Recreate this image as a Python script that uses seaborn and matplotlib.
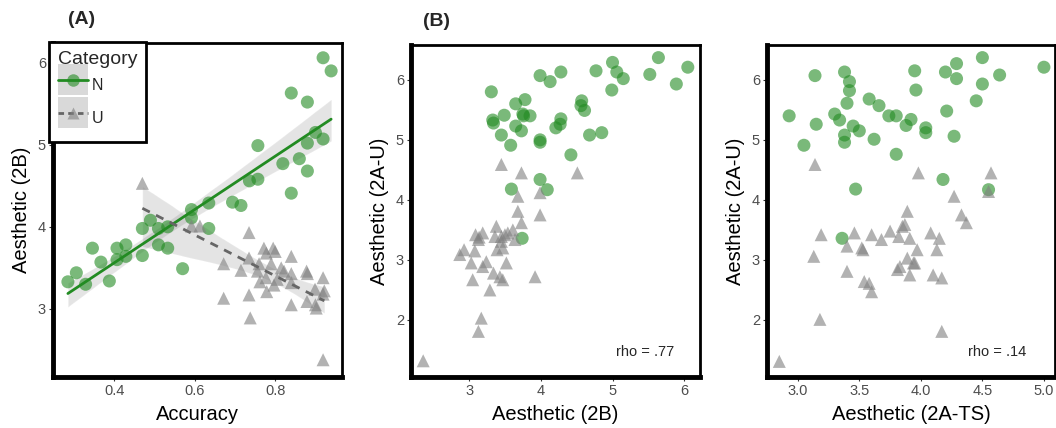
import numpy as np
import pandas as pd
import seaborn as sns
import matplotlib.pyplot as plt
from matplotlib.lines import Line2D
from matplotlib.patches import Patch, Rectangle
from matplotlib.legend_handler import HandlerTuple, HandlerPatch
from matplotlib.colors import to_rgba

# Panel A: accuracy vs aesthetic (2B)
acc_n = [0.285, 0.306, 0.329, 0.346, 0.367, 0.388, 0.407, 0.407, 0.429, 0.429,
         0.470, 0.470, 0.490, 0.510, 0.510, 0.533, 0.533, 0.570, 0.592, 0.592,
         0.635, 0.635, 0.694, 0.715, 0.736, 0.757, 0.757, 0.819, 0.840, 0.840,
         0.860, 0.880, 0.880, 0.880, 0.900, 0.919, 0.919, 0.939]
aes2b_n = [3.33, 3.44, 3.30, 3.74, 3.57, 3.34, 3.74, 3.60, 3.78, 3.64,
           3.98, 3.65, 4.08, 3.98, 3.78, 4.00, 3.74, 3.49, 4.21, 4.11,
           4.29, 3.98, 4.30, 4.26, 4.56, 4.99, 4.58, 4.77, 5.63, 4.41,
           4.83, 5.52, 5.02, 4.68, 5.15, 5.07, 6.06, 5.90]
acc_u = [0.470, 0.592, 0.613, 0.672, 0.672, 0.715, 0.735, 0.735, 0.735, 0.738,
         0.756, 0.762, 0.772, 0.778, 0.777, 0.779, 0.795, 0.797, 0.800, 0.815,
         0.822, 0.840, 0.840, 0.840, 0.840, 0.878, 0.879, 0.899, 0.900, 0.902,
         0.919, 0.919, 0.922, 0.919, 0.790, 0.805, 0.760, 0.880]
aes2b_u = [4.53, 4.01, 4.01, 3.55, 3.13, 3.47, 3.93, 3.62, 3.17, 2.89,
           3.46, 3.33, 3.74, 3.68, 3.38, 3.21, 3.74, 3.29, 3.70, 3.50,
           3.46, 3.64, 3.43, 3.32, 3.05, 3.46, 3.09, 3.24, 3.05, 3.01,
           3.38, 3.18, 3.22, 2.38, 3.55, 3.36, 3.55, 3.43]

# Panel B: aesthetic (2B) vs aesthetic (2A-U)
b_x_n = [3.31, 3.33, 3.34, 3.49, 3.45, 3.58, 3.65, 3.65, 3.73, 3.78,
         3.75, 3.76, 3.85, 3.99, 4.13, 4.28, 3.99, 3.99, 4.21, 4.27,
         4.28, 4.42, 4.57, 4.56, 4.61, 4.68, 4.85, 4.77, 5.00, 5.06,
         5.15, 4.99, 5.52, 5.64, 5.89, 6.05, 3.99, 4.09, 3.59, 3.74]
b_y_n = [5.80, 5.33, 5.28, 5.41, 5.08, 4.91, 5.60, 5.23, 5.15, 5.67,
         5.43, 5.40, 5.40, 6.07, 5.97, 6.13, 5.00, 4.96, 5.20, 5.26,
         5.35, 4.75, 5.65, 5.57, 5.49, 5.08, 5.12, 6.15, 6.29, 6.13,
         6.02, 5.83, 6.09, 6.37, 5.93, 6.21, 4.34, 4.17, 4.18, 3.36]
b_x_u = [2.36, 3.13, 3.17, 3.05, 2.87, 2.93, 3.03, 3.09, 3.19, 3.14,
         3.13, 3.19, 3.24, 3.29, 3.34, 3.38, 3.36, 3.39, 3.45, 3.45,
         3.45, 3.47, 3.43, 3.47, 3.52, 3.54, 3.61, 3.64, 3.68, 3.68,
         3.73, 3.73, 3.99, 3.99, 3.92, 4.51, 3.50, 3.08]
b_y_u = [1.32, 1.81, 2.03, 2.67, 3.09, 3.17, 2.95, 3.42, 3.45, 3.38,
         3.34, 2.89, 2.97, 2.50, 2.78, 3.56, 3.39, 3.17, 4.59, 3.39,
         3.31, 3.20, 2.72, 2.67, 2.95, 3.45, 3.50, 3.34, 4.06, 3.81,
         3.62, 4.45, 4.12, 3.75, 2.72, 4.45, 3.42, 3.15]

# Panel C: aesthetic (2A-TS) vs aesthetic (2A-U)
c_x_n = [2.93, 3.05, 3.14, 3.15, 3.30, 3.34, 3.38, 3.42, 3.42, 3.40,
         3.38, 3.38, 3.45, 3.50, 3.47, 3.36, 3.58, 3.66, 3.62, 3.74,
         3.80, 3.80, 3.88, 3.92, 3.95, 3.96, 4.04, 4.04, 4.20, 4.29,
         4.29, 4.21, 4.27, 4.18, 4.45, 4.50, 4.50, 4.64, 4.55, 5.00]
c_y_n = [5.40, 4.91, 6.07, 5.26, 5.43, 5.33, 6.13, 5.97, 5.82, 5.61,
         5.08, 4.96, 5.23, 5.15, 4.18, 3.36, 5.68, 5.57, 5.01, 5.40,
         5.40, 4.76, 5.24, 5.34, 6.15, 5.83, 5.20, 5.12, 6.13, 6.27,
         6.02, 5.48, 5.06, 4.34, 5.65, 6.37, 5.93, 6.08, 4.17, 6.21]
c_x_u = [2.85, 3.14, 3.13, 3.19, 3.18, 3.40, 3.40, 3.46, 3.52, 3.53,
         3.54, 3.58, 3.60, 3.60, 3.68, 3.75, 3.82, 3.81, 3.85, 3.87,
         3.89, 3.89, 3.91, 3.91, 3.94, 3.95, 3.97, 3.98, 4.08, 4.10,
         4.13, 4.15, 4.17, 4.17, 4.27, 4.33, 4.37, 4.55, 4.57, 3.83]
c_y_u = [1.31, 4.59, 3.06, 3.42, 2.01, 3.23, 2.81, 3.45, 3.20, 3.17,
         2.64, 2.61, 2.47, 3.42, 3.34, 3.48, 3.39, 2.84, 3.56, 3.59,
         3.81, 3.03, 2.75, 3.36, 2.95, 2.95, 3.17, 4.45, 3.45, 2.75,
         3.17, 3.36, 2.70, 1.81, 4.06, 3.75, 3.62, 4.14, 4.45, 2.89]

rho_b = "rho = .77"
rho_c = "rho = .14"

green = "forestgreen"
grey = "#808080"
palette = {"N": green, "U": grey}
markers = {"N": "o", "U": "^"}


def make_df(xn, yn, xu, yu):
    return pd.concat([
        pd.DataFrame({"x": xn, "y": yn, "Category": "N"}),
        pd.DataFrame({"x": xu, "y": yu, "Category": "U"}),
    ], ignore_index=True)


df_a = make_df(acc_n, aes2b_n, acc_u, aes2b_u)
df_b = make_df(b_x_n, b_y_n, b_x_u, b_y_u)
df_c = make_df(c_x_n, c_y_n, c_x_u, c_y_u)

sns.set_theme(style="ticks")
plt.rcParams["font.family"] = ["Liberation Sans", "DejaVu Sans"]

W, H = 1056, 428
fig = plt.figure(figsize=(W / 100, H / 100), dpi=100)


def add_ax(left, top, right, bottom):
    return fig.add_axes([left / W, 1 - bottom / H, (right - left) / W, (bottom - top) / H])


ax_a = add_ax(53, 43, 342, 377)
ax_b = add_ax(411, 45, 700, 377)
ax_c = add_ax(767, 45, 1055, 377)


def draw_points(ax, df):
    sns.scatterplot(data=df, x="x", y="y", hue="Category", style="Category",
                    palette=palette, markers=markers, s=88, alpha=0.6,
                    linewidth=0, legend=False, ax=ax, zorder=3)


# regression bands (grey) then points, then the fitted lines on top
for cat in ["N", "U"]:
    sub = df_a[df_a["Category"] == cat]
    sns.regplot(data=sub, x="x", y="y", scatter=False, color="#4a4a4a",
                line_kws={"alpha": 0}, seed=1, n_boot=2000, ax=ax_a)
draw_points(ax_a, df_a)
sns.regplot(data=df_a[df_a["Category"] == "N"], x="x", y="y", scatter=False, ci=None,
            color=green, line_kws={"lw": 2, "zorder": 4}, ax=ax_a)
sns.regplot(data=df_a[df_a["Category"] == "U"], x="x", y="y", scatter=False, ci=None,
            color="#666666", line_kws={"lw": 2, "ls": (0, (3, 2.5)), "zorder": 4}, ax=ax_a)

draw_points(ax_b, df_b)
draw_points(ax_c, df_c)

ax_a.set(xlim=(0.248, 0.966), ylim=(2.17, 6.24), xticks=[0.4, 0.6, 0.8], yticks=[3, 4, 5, 6])
ax_a.set_xticklabels(["0.4", "0.6", "0.8"])
ax_b.set(xlim=(2.19, 6.22), ylim=(1.05, 6.58), xticks=[3, 4, 5, 6], yticks=[2, 3, 4, 5, 6])
ax_c.set(xlim=(2.75, 5.09), ylim=(1.05, 6.58), xticks=[3.0, 3.5, 4.0, 4.5, 5.0], yticks=[2, 3, 4, 5, 6])
ax_c.set_xticklabels(["3.0", "3.5", "4.0", "4.5", "5.0"])

labels = [(ax_a, "Accuracy", "Aesthetic (2B)"),
          (ax_b, "Aesthetic (2B)", "Aesthetic (2A-U)"),
          (ax_c, "Aesthetic (2A-TS)", "Aesthetic (2A-U)")]
for ax, xl, yl in labels:
    ax.set_xlabel(xl, fontsize=14.5, color="black", labelpad=5)
    ax.set_ylabel(yl, fontsize=14.5, color="black", labelpad=5)
    ax.tick_params(labelsize=10.5, labelcolor="#4d4d4d", color="#333333",
                   length=3, width=0.8, pad=2)
    for side in ["left", "bottom"]:
        ax.spines[side].set_linewidth(3.5)
        ax.spines[side].set_color("black")
    for side in ["top", "right"]:
        ax.spines[side].set_visible(True)
        ax.spines[side].set_linewidth(2)
        ax.spines[side].set_color("black")
    ax.grid(False)

ax_b.text(0.81, 0.075, rho_b, transform=ax_b.transAxes, ha="center", va="center", fontsize=10.5)
ax_c.text(0.80, 0.075, rho_c, transform=ax_c.transAxes, ha="center", va="center", fontsize=10.5)

fig.text(82 / W, 1 - 20 / H, "(A)", fontsize=14, fontweight="bold", ha="center", va="center")
fig.text(437 / W, 1 - 22 / H, "(B)", fontsize=14, fontweight="bold", ha="center", va="center")


# legend: grey key background, centred on the line + marker drawn over it
def key_rect(legend, orig_handle, xdescent, ydescent, width, height, fontsize):
    return Rectangle((-xdescent, -ydescent / 2), width, height)


key_bg = Patch(facecolor="#d9d9d9", edgecolor="none")
h_n = (key_bg, Line2D([], [], color=green, lw=2, marker="o", markersize=9,
                      markerfacecolor=to_rgba(green, 0.6), markeredgecolor="none"))
h_u = (key_bg, Line2D([], [], color="#666666", lw=2, ls=(0, (2, 1.5)), marker="^", markersize=9,
                      markerfacecolor=to_rgba(grey, 0.6), markeredgecolor="none"))
leg = ax_a.legend([h_n, h_u], ["N", "U"], title="Category", loc="upper left",
                  bbox_to_anchor=(-0.014, 1.003), borderaxespad=0,
                  handler_map={tuple: HandlerTuple(ndivide=1, pad=0),
                               Patch: HandlerPatch(patch_func=key_rect)},
                  fontsize=11.5, title_fontsize=14, handlelength=1.9, handleheight=2.6,
                  labelspacing=0.12, handletextpad=0.25, borderpad=0.55,
                  fancybox=False, framealpha=1, edgecolor="black", alignment="left")
leg.get_frame().set_linewidth(2)
leg.set_zorder(10)

fig.savefig("out.png", dpi=100, facecolor="white")
